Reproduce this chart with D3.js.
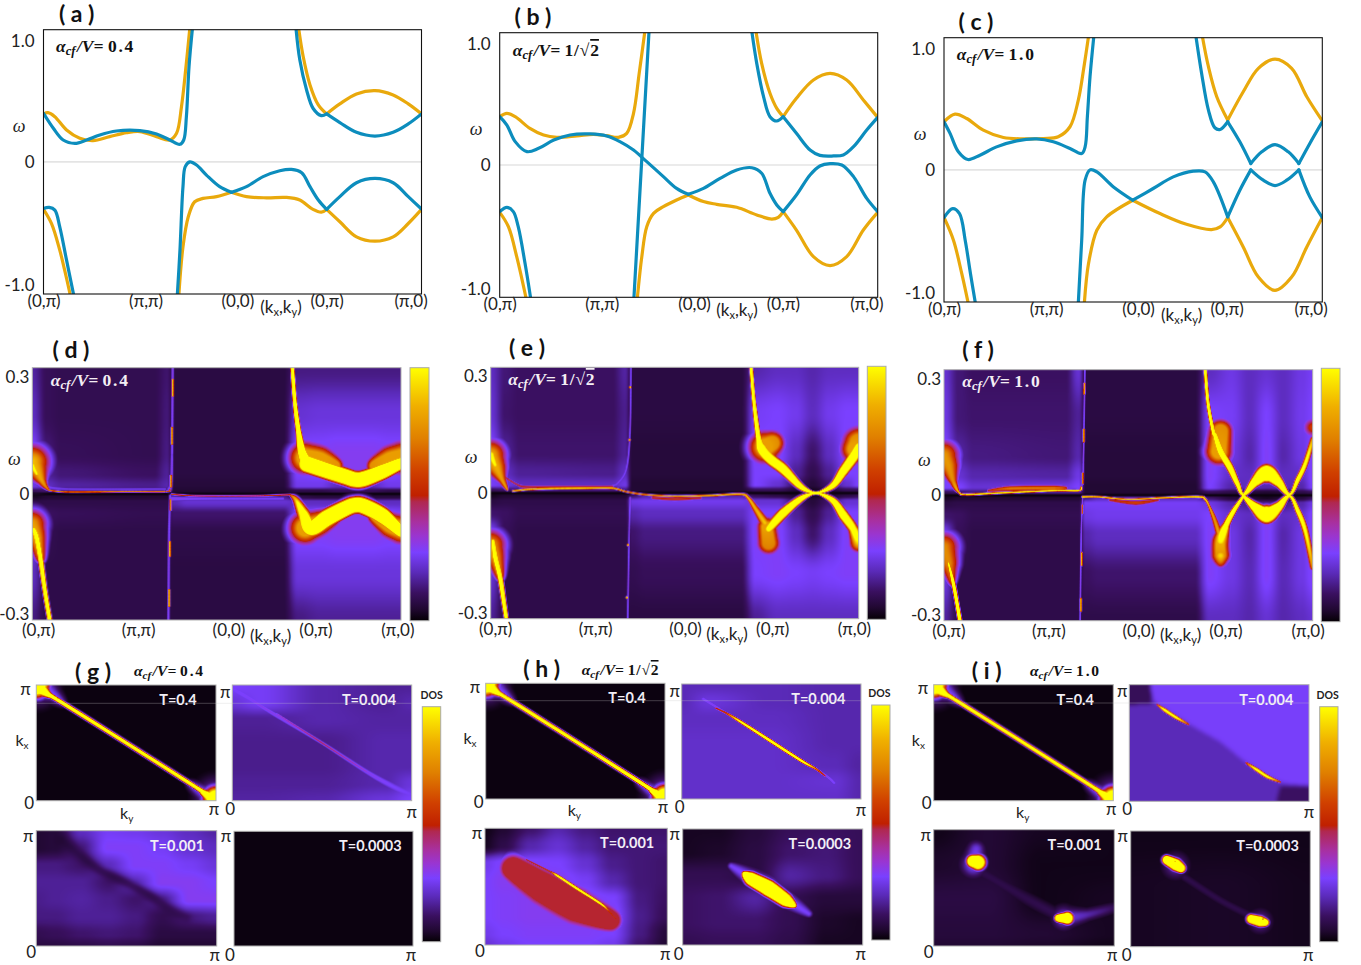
<!DOCTYPE html>
<html><head><meta charset="utf-8">
<script src="https://cdn.jsdelivr.net/npm/d3@7"></script>
<style>html,body{margin:0;padding:0;background:#fff}svg{display:block}text{font-family:Lato,"Open Sans",sans-serif}</style>
</head><body><svg id="c" width="1361" height="965"></svg>
<script>
// ---------- band dispersions, [k along path (0..1), omega] ----------
const aBlue=[
[[0,.393],[.026,.272],[.052,.177],[.083,.15],[.114,.177],[.149,.218],[.193,.25],[.255,.253],[.299,.226],[.334,.177],[.361,.142],[.371,.177],[.378,.366],[.385,.772],[.394,1.08]],
[[.668,1.08],[.678,.826],[.696,.582],[.713,.434],[.735,.374],[.749,.388],[.784,.318],[.828,.239],[.877,.209],[.925,.239],[.965,.307],[1,.388]],
[[0,-.377],[.015,-.369],[.03,-.391],[.043,-.526],[.061,-.796],[.08,-1.08]],
[[.354,-1.08],[.361,-.715],[.369,-.201],[.375,-.039],[.387,0],[.405,-.026],[.431,-.107],[.466,-.201],[.497,-.247],[.537,-.201],[.581,-.12],[.625,-.072],[.656,-.061],[.683,-.088],[.705,-.201],[.727,-.309],[.749,-.385],[.784,-.282],[.828,-.169],[.877,-.134],[.925,-.169],[.965,-.282],[1,-.382]]];
const aOrange=[
[[0,.388],[.012,.399],[.03,.366],[.061,.258],[.096,.191],[.131,.172],[.175,.204],[.22,.236],[.255,.245],[.299,.204],[.334,.177],[.352,.231],[.365,.447],[.377,.772],[.387,1.08]],
[[.675,1.08],[.687,.853],[.705,.623],[.727,.461],[.749,.388],[.784,.469],[.828,.55],[.877,.577],[.925,.542],[.965,.469],[1,.388]],
[[0,-.385],[.021,-.499],[.043,-.715],[.056,-.877],[.071,-1.08]],
[[.358,-1.08],[.369,-.688],[.383,-.445],[.4,-.323],[.422,-.296],[.458,-.282],[.497,-.247],[.537,-.282],[.59,-.291],[.643,-.288],[.678,-.309],[.713,-.385],[.735,-.407],[.749,-.385],[.784,-.485],[.828,-.607],[.877,-.642],[.925,-.607],[.965,-.499],[1,-.385]]];
const bBlue=[
[[0,.391],[.019,.323],[.041,.189],[.072,.108],[.103,.135],[.143,.202],[.186,.243],[.239,.251],[.283,.235],[.318,.189],[.354,.121],[.389,.027],[.433,-.094],[.468,-.189],[.499,-.237],[.539,-.189],[.583,-.108],[.627,-.04],[.667,-.022],[.693,-.067],[.715,-.229],[.733,-.323],[.75,-.377],[.785,-.243],[.821,-.081],[.847,-.008],[.874,.011],[.905,0],[.936,-.094],[.971,-.27],[1,-.377]],
[[.355,-1.08],[.395,1.08]],
[[.667,1.08],[.68,.822],[.698,.553],[.715,.391],[.733,.356],[.75,.391],[.785,.256],[.821,.121],[.847,.078],[.883,.073],[.909,.081],[.936,.148],[.971,.283],[1,.385]],
[[0,-.377],[.019,-.342],[.036,-.377],[.049,-.499],[.067,-.795],[.082,-1.08]]];
const bOrange=[
[[0,.391],[.019,.418],[.041,.391],[.08,.296],[.116,.243],[.151,.224],[.204,.235],[.248,.248],[.283,.237],[.314,.224],[.336,.256],[.354,.418],[.369,.741],[.384,1.08]],
[[.678,1.08],[.693,.822],[.715,.58],[.733,.458],[.75,.391],[.785,.539],[.83,.687],[.874,.741],[.918,.687],[.962,.526],[1,.385]],
[[0,-.383],[.023,-.499],[.045,-.741],[.07,-1.08]],
[[.364,-1.08],[.376,-.741],[.389,-.499],[.407,-.391],[.433,-.337],[.468,-.283],[.499,-.243],[.539,-.296],[.574,-.318],[.627,-.342],[.68,-.404],[.72,-.437],[.737,-.423],[.75,-.377],[.785,-.526],[.83,-.741],[.874,-.814],[.918,-.741],[.962,-.526],[1,-.383]]];
const cBlue=[
[[0,.389],[.016,.295],[.038,.146],[.063,.084],[.095,.119],[.139,.186],[.192,.235],[.245,.251],[.289,.227],[.333,.173],[.364,.132],[.373,.186],[.379,.43],[.386,.754],[.396,1.08]],
[[.666,1.08],[.681,.781],[.699,.484],[.716,.341],[.73,.327],[.75,.389],[.782,.227],[.811,.051],[.84,.146],[.875,.205],[.91,.146],[.938,.051],[.967,.214],[1,.389]],
[[0,-.386],[.023,-.314],[.041,-.354],[.056,-.57],[.07,-.841],[.083,-1.08]],
[[.355,-1.08],[.364,-.57],[.373,-.084],[.386,0],[.404,-.016],[.448,-.138],[.499,-.246],[.553,-.151],[.606,-.057],[.659,-.011],[.69,-.016],[.712,-.097],[.75,-.381],[.782,-.165],[.811,0],[.844,-.084],[.875,-.127],[.906,-.084],[.938,0],[.967,-.219],[1,-.386]]];
const cOrange=[
[[0,.389],[.029,.451],[.06,.416],[.104,.322],[.157,.262],[.21,.251],[.263,.254],[.302,.268],[.333,.349],[.355,.565],[.37,.835],[.382,1.08]],
[[.683,1.08],[.699,.835],[.721,.592],[.75,.403],[.791,.632],[.831,.822],[.875,.897],[.919,.822],[.959,.592],[1,.397]],
[[0,-.386],[.025,-.57],[.047,-.841],[.064,-1.08]],
[[.371,-1.08],[.382,-.759],[.404,-.489],[.43,-.381],[.499,-.246],[.571,-.354],[.641,-.441],[.707,-.484],[.73,-.462],[.75,-.386],[.791,-.624],[.831,-.868],[.875,-.976],[.919,-.868],[.959,-.624],[1,-.386]]];
// k values where a band has a sharp corner
const cornerK=[.497,.499,.747,.749,.75,.811,.938];

// ---------- text ----------
const pathLabels=["(0,π)","(π,π)","(0,0)","(0,π)","(π,0)"];
const bandTickK=[[0,.27,.513,.749,.971],[0,.27,.514,.749,.97],[0,.27,.513,.747,.969]];
const heatTickK=[[.016,.287,.532,.768,.99],[.012,.284,.528,.765,.987],[.012,.283,.527,.763,.986]];
const bandOmegaTicks=[1,0,-1], heatOmegaTicks=[.3,0,-.3];
const ratios=["0.4","1/√2","1.0"];
const tempLabels=["T=0.4","T=0.004","T=0.001","T=0.0003"];

// ---------- colour scale of the spectral maps ----------
const cmapT=[0,.045,.11,.19,.27,.335,.39,.47,.495,.59,.72,.85,1];
const cmapC=["#050005","#200830","#3a1060","#5a2ab8","#7a40ff","#9a35d0","#a830a0","#b02850","#c02000","#d04000","#e08000","#f0b000","#ffff00"];

// ---------- spectral maps: background level on a grid ----------
const heatCols=[0,.04,.08,.33,.365,.385,.42,.68,.72,.78,.83,.875,.92,.97,1];
const heatRows=[.315,.2,.1,.05,.02,.007,0,-.007,-.02,-.05,-.1,-.2,-.315];
const gridD=[
[.17,.10,.09,.09,.12,.07,.07,.07,.14,.14,.14,.14,.14,.14,.14],
[.20,.10,.09,.09,.13,.07,.07,.07,.22,.23,.23,.23,.23,.23,.23],
[.28,.13,.10,.09,.14,.07,.07,.07,.28,.28,.29,.29,.29,.28,.28],
[.26,.16,.13,.11,.16,.07,.07,.07,.27,.28,.29,.29,.29,.28,.27],
[.24,.20,.17,.15,.18,.06,.06,.06,.25,.25,.20,.22,.20,.25,.25],
[.10,.12,.12,.12,.12,.05,.05,.05,.08,.08,.10,.10,.10,.08,.08],
[.01,.01,.01,.01,.01,.01,.01,.01,.01,.01,.01,.01,.01,.01,.01],
[.03,.05,.05,.05,.05,.11,.16,.16,.08,.06,.06,.06,.06,.06,.06],
[.07,.08,.08,.08,.08,.19,.22,.22,.20,.20,.20,.20,.20,.20,.20],
[.12,.11,.10,.09,.09,.12,.12,.12,.27,.28,.29,.29,.29,.28,.27],
[.27,.09,.08,.08,.08,.08,.08,.08,.28,.28,.29,.29,.29,.28,.28],
[.20,.08,.08,.08,.08,.07,.07,.07,.23,.23,.23,.23,.23,.23,.23],
[.14,.08,.08,.08,.08,.07,.07,.07,.14,.16,.16,.16,.16,.16,.16]];
const gridE=[
[.20,.13,.11,.11,.17,.07,.07,.07,.18,.20,.20,.18,.20,.20,.20],
[.22,.12,.11,.11,.15,.07,.07,.07,.26,.27,.25,.20,.25,.27,.27],
[.28,.16,.12,.12,.16,.06,.06,.06,.28,.28,.20,.12,.20,.28,.28],
[.27,.20,.16,.15,.20,.06,.06,.06,.27,.27,.16,.09,.16,.27,.27],
[.26,.24,.20,.20,.24,.05,.05,.05,.27,.22,.12,.06,.12,.22,.27],
[.10,.12,.14,.14,.14,.05,.05,.05,.10,.10,.06,.03,.06,.10,.10],
[.01,.01,.01,.01,.01,.01,.01,.01,.01,.01,.01,.01,.01,.01,.01],
[.03,.05,.05,.05,.05,.12,.18,.18,.10,.08,.05,.03,.05,.08,.10],
[.07,.08,.08,.08,.08,.24,.25,.25,.22,.22,.12,.06,.12,.22,.22],
[.12,.11,.09,.09,.09,.18,.20,.20,.27,.27,.16,.09,.16,.27,.27],
[.27,.10,.08,.08,.08,.12,.14,.14,.28,.28,.20,.12,.20,.28,.28],
[.22,.08,.08,.08,.08,.09,.10,.10,.27,.28,.27,.26,.27,.28,.28],
[.16,.08,.08,.08,.08,.07,.07,.07,.16,.20,.20,.20,.20,.20,.20]];
const gridF=[
[.22,.13,.11,.11,.22,.07,.07,.07,.20,.24,.20,.22,.20,.24,.26],
[.24,.13,.12,.12,.16,.07,.07,.07,.27,.26,.20,.27,.20,.25,.27],
[.28,.17,.14,.13,.18,.06,.06,.06,.28,.24,.18,.28,.18,.24,.28],
[.28,.22,.18,.17,.24,.06,.06,.06,.28,.21,.20,.28,.20,.21,.28],
[.27,.27,.22,.24,.27,.05,.05,.05,.27,.18,.20,.18,.20,.18,.27],
[.10,.12,.14,.16,.16,.05,.05,.05,.10,.08,.06,.05,.06,.08,.10],
[.01,.01,.01,.01,.01,.01,.01,.01,.01,.01,.01,.01,.01,.01,.01],
[.03,.05,.05,.05,.05,.15,.20,.20,.12,.06,.05,.03,.05,.06,.10],
[.07,.08,.08,.08,.08,.26,.26,.26,.24,.18,.15,.15,.15,.18,.24],
[.12,.11,.09,.09,.09,.24,.25,.25,.27,.22,.20,.28,.20,.22,.28],
[.27,.10,.08,.08,.08,.18,.20,.20,.28,.24,.18,.28,.18,.24,.28],
[.24,.08,.08,.08,.08,.11,.12,.12,.28,.24,.19,.28,.19,.24,.28],
[.17,.08,.08,.08,.08,.08,.08,.08,.20,.20,.18,.22,.18,.20,.22]];

// ---------- spectral ridges: [k, omega, width in omega, weight, optional ceiling] ----------
const ridgesD=[
[[.381,.32,.004,.3],[.379,.1,.004,.3],[.377,.03,.005,.3],[.372,.012,.008,.3]],
[[.374,-.005,.004,.3],[.371,-.1,.004,.3],[.369,-.32,.004,.3]],
[[.381,.285,.003,.95],[.381,.245,.003,.95]],[[.379,.165,.003,.9],[.379,.125,.003,.9]],[[.376,.045,.003,.9],[.376,.018,.003,.9]],
[[.375,-.015,.003,.8],[.375,-.04,.003,.8]],[[.373,-.12,.003,.95],[.373,-.155,.003,.95]],[[.371,-.24,.003,.95],[.371,-.28,.003,.95]],
[[.03,.02,.008,.28],[.1,.012,.006,.24],[.36,.012,.006,.24]],
[[.045,.009,.0025,.7],[.1,.005,.0025,.78],[.25,.006,.0025,.75],[.36,.006,.0025,.72],[.373,.01,.003,.7]],
[[.38,-.012,.008,.3],[.5,-.012,.006,.27],[.68,-.012,.006,.27]],
[[.378,-.001,.0025,.6],[.45,-.005,.0025,.52],[.6,-.005,.0025,.52],[.7,-.002,.003,.55]],
[[0,.08,.045,.88],[.012,.06,.03,.85],[.025,.035,.014,.82],[.035,.02,.008,.75],[.045,.01,.003,.7]],
[[0,.07,.012,1.1],[.012,.05,.008,1]],
[[0,-.075,.038,.8],[.012,-.11,.026,.85],[.022,-.16,.014,.75]],
[[.004,-.09,.008,1.3],[.012,-.11,.007,1.6],[.022,-.16,.006,1.8],[.034,-.24,.005,2],[.048,-.32,.005,2]],
[[.705,.32,.0042,2],[.712,.23,.0045,2],[.722,.156,.006,2],[.731,.106,.01,2.2],[.745,.075,.014,2.6]],
[[.74,.09,.04,1,.8],[.78,.085,.035,1,.8],[.82,.07,.022,1,.76]],[[.93,.07,.022,1,.76],[.97,.085,.035,1,.8],[1,.09,.04,1,.8]],
[[.745,.075,.017,3],[.80,.058,.0165,3],[.85,.043,.016,3],[.875,.036,.016,3],[.90,.038,.016,3],[.95,.056,.015,3],[1,.077,.013,2.2]],
[[.74,-.085,.04,1,.8],[.78,-.072,.032,1,.78],[.82,-.055,.02,1,.74]],[[.93,-.055,.02,1,.74],[.97,-.078,.032,1,.78],[1,-.088,.036,1,.8]],
[[.70,-.003,.003,.6],[.715,-.015,.009,.9],[.735,-.05,.015,1.4],[.755,-.085,.018,2.2],[.80,-.06,.017,3],[.85,-.036,.016,3],[.875,-.028,.016,3],[.90,-.031,.016,3],[.95,-.055,.016,3],[1,-.095,.014,1.8]]];
const ridgesE=[
[[.381,.32,.003,.3],[.378,.15,.003,.3],[.368,.06,.004,.28],[.345,.025,.004,.27],[.33,.018,.005,.27]],
[[.372,-.32,.003,.3],[.376,-.1,.003,.3],[.379,-.012,.004,.3]],
[[.379,.265,.003,1.2]],[[.377,.133,.003,1.2]],[[.373,-.13,.003,1.2]],[[.37,-.262,.003,1.2]],
[[.03,.045,.003,.52],[.07,.022,.003,.52],[.1,.015,.005,.52],[.2,.015,.005,.5],[.33,.015,.005,.54]],
[[.44,-.012,.005,.5],[.5,-.015,.006,.56],[.57,-.012,.005,.5]],
[[0,.095,.04,.85],[.015,.065,.028,.85],[.03,.035,.012,.8],[.045,.008,.003,.8]],
[[0,.095,.016,1.1],[.012,.07,.01,1.0]],
[[.06,.005,.0025,.95],[.12,.01,.0027,1.05],[.25,.012,.0027,1.1],[.33,.012,.0027,1],[.37,.003,.0025,.8],[.42,-.004,.0025,.85],[.5,-.008,.0025,.95],[.6,-.006,.0025,1],[.68,-.003,.003,.95],[.70,-.013,.005,.9],[.72,-.04,.009,.85],[.745,-.075,.014,.9]],
[[0,-.13,.04,.8],[.012,-.16,.028,.8],[.025,-.21,.012,.75]],
[[.006,-.12,.007,1.1],[.012,-.16,.007,1.6],[.025,-.21,.006,1.8],[.035,-.27,.005,2],[.043,-.32,.0045,2]],
[[.707,.32,.0038,2],[.715,.23,.0042,2],[.727,.14,.006,2],[.736,.11,.012,2],[.76,.085,.012,2],[.795,.06,.0115,2],[.84,.018,.007,2.2],[.872,.002,.003,2],[.895,.002,.003,2],[.931,.02,.007,2.2],[.958,.055,.0105,2],[.985,.09,.012,2],[1,.115,.012,1.6]],
[[.745,.115,.04,1,.8],[.765,.125,.03,1,.75]],[[.99,.11,.035,1,.8],[1,.125,.04,1,.75]],
[[.75,-.085,.024,1,.8],[.755,-.125,.028,.95,.72]],
[[.755,-.09,.012,1.2],[.795,-.05,.0105,2],[.84,-.016,.007,2.2],[.872,-.002,.003,2],[.895,-.002,.003,2],[.931,-.02,.007,2.2],[.958,-.055,.0105,2],[.985,-.09,.012,1.3],[1,-.125,.024,.9]]];
const ridgesF=[
[[.382,.32,.003,.3],[.378,.1,.003,.3],[.375,.03,.004,.3],[.36,.015,.008,.28]],
[[.376,-.005,.003,.3],[.372,-.1,.003,.3],[.369,-.32,.003,.3]],
[[.381,.28,.003,.85],[.38,.255,.003,.85]],[[.379,.165,.003,.85],[.379,.135,.003,.85]],[[.376,.055,.003,.75],[.376,.03,.003,.75]],
[[.375,-.025,.003,.65],[.375,-.045,.003,.65]],[[.373,-.145,.003,.9],[.373,-.175,.003,.9]],[[.371,-.26,.003,.9],[.371,-.29,.003,.9]],
[[.12,.012,.004,.52],[.18,.017,.008,.72],[.3,.018,.008,.72],[.33,.018,.006,.58]],
[[.45,-.012,.005,.5],[.52,-.019,.008,.6],[.58,-.012,.005,.5]],
[[0,.1,.04,.78],[.012,.075,.03,.78],[.025,.035,.012,.75],[.04,.008,.003,.9],[.06,.002,.0027,1.1],[.15,.006,.0027,1.1],[.3,.012,.0028,1.1],[.365,.012,.0027,1.1],[.372,.02,.003,.95]],
[[0,-.13,.04,.75],[.012,-.17,.028,.75],[.022,-.22,.01,.6]],
[[.012,-.17,.004,1.0],[.025,-.22,.005,1.5],[.035,-.27,.0045,1.8],[.044,-.32,.0045,2]],
[[.376,-.004,.0027,1.1],[.42,-.004,.0025,1],[.5,-.01,.0025,.95],[.6,-.006,.0025,1],[.69,-.004,.003,1.1],[.708,-.01,.0035,1],[.72,-.03,.004,.85],[.735,-.065,.008,.78],[.75,-.11,.011,.85]],
[[.708,.32,.0038,1.8],[.716,.23,.004,1.8],[.73,.16,.0045,1.8],[.735,.15,.006,1.6],[.75,.11,.009,1.6],[.775,.07,.008,1.8],[.795,.03,.006,1.8],[.812,.002,.003,1.8],[.844,.034,.01,2.4],[.875,.055,.017,3],[.906,.034,.01,2.4],[.937,.002,.003,1.8],[.96,.04,.006,1.6],[.98,.08,.007,1.2],[1,.14,.008,.8]],
[[.75,.16,.03,1,.75],[.745,.11,.034,1,.8]],[[1,.17,.026,.58]],
[[.812,-.002,.003,1.8],[.844,-.03,.01,2.4],[.875,-.048,.017,3],[.906,-.03,.01,2.4],[.937,-.002,.003,1.8],[.96,-.04,.006,1.6],[.98,-.09,.008,1.1],[1,-.18,.009,.75]],
[[.812,-.002,.003,1.8],[.785,-.04,.006,1.7],[.765,-.075,.008,1.5],[.75,-.115,.022,1,.85],[.75,-.15,.024,.95,.75],[.75,-.17,.014,.6]]];

// ---------- constant-energy maps: (ky, kx) in units of π ----------
const fullCols=[0,1], fullRows=[1,0];
const blackGrid=[[.012,.012],[.012,.012]];
const diagRidge=[[0,1,.09,2],[.03,.96,.05,1.6],[.07,.915,.024,1.5],[.12,.87,.018,1.5],[.5,.5,.017,1.5],[.88,.125,.018,1.5],[.93,.07,.026,1.5],[.97,.03,.05,1.6],[1,.012,.09,2]];
const diagHalo=[[0,1,.14,.35],[.08,.93,.07,.28],[.15,.84,.03,.25]];
const diagHalo2=[[.85,.15,.03,.25],[.93,.07,.07,.28],[1,.02,.14,.35]];
const t04Ridges=[diagHalo,diagHalo2,diagRidge];

const c5=[0,.15,.5,.85,1], r7=[1,.85,.7,.5,.3,.15,0];
const gTRgrid=[[.27,.26,.18,.16,.16],[.23,.26,.18,.16,.18],[.16,.16,.18,.17,.17],[.15,.15,.15,.18,.18],[.15,.15,.15,.18,.18],[.16,.16,.16,.18,.23],[.17,.17,.18,.23,.27]];
const gTRridges=[[[0,.97,.08,.27],[.1,.88,.05,.28],[.2,.78,.03,.3],[.5,.5,.022,.3],[.75,.25,.03,.3],[.9,.12,.05,.27],[1,.05,.08,.26]],[[.25,.75,.01,.34],[.5,.5,.012,.47],[.75,.25,.01,.34]]];
const c8=[0,.1,.25,.4,.55,.7,.85,1], r8=[1,.85,.7,.55,.4,.25,.1,0];
const gBLgrid=[[.05,.06,.2,.26,.25,.23,.2,.17],[.05,.06,.14,.28,.28,.26,.22,.2],[.14,.14,.12,.2,.28,.28,.26,.23],[.16,.16,.16,.12,.2,.29,.29,.27],[.15,.16,.17,.15,.12,.16,.29,.29],[.14,.14,.16,.16,.14,.09,.14,.16],[.09,.1,.12,.13,.12,.07,.07,.07],[.07,.07,.08,.09,.08,.05,.05,.05]];
const gBLridges=[[[.15,.92,.06,-.35],[.25,.78,.05,-.4],[.353,.66,.045,-.45],[.5,.55,.045,-.45],[.63,.44,.045,-.45],[.72,.34,.05,-.35],[.83,.25,.05,-.25]]];

const hTRgrid=[[.19,.19,.19,.18,.18],[.19,.23,.19,.18,.18],[.2,.2,.2,.18,.18],[.21,.21,.21,.18,.18],[.21,.21,.21,.19,.17],[.21,.21,.21,.22,.18],[.21,.21,.21,.21,.18]];
const hTRridges=[[[.12,.87,.03,.28],[.25,.745,.02,.3],[.75,.26,.02,.3],[.85,.14,.03,.27]],[[.19,.79,.012,.5],[.25,.745,.013,.6],[.33,.67,.015,1.1],[.5,.5,.015,1.4],[.67,.33,.015,1.2],[.75,.26,.013,.7],[.8,.2,.012,.45]]];
const hBLgrid=[[.02,.05,.12,.18,.14,.12,.12,.12],[.03,.08,.18,.22,.17,.13,.13,.13],[.25,.28,.28,.27,.22,.15,.13,.12],[.27,.29,.29,.29,.26,.18,.13,.12],[.27,.28,.29,.29,.29,.27,.14,.11],[.27,.28,.29,.29,.29,.29,.15,.1],[.25,.27,.28,.28,.28,.27,.14,.06],[.22,.25,.27,.27,.27,.25,.12,.05]];
const hBLridges=[[[.155,.657,.11,.95,.48],[.32,.49,.15,.95,.48],[.5,.335,.155,.95,.48],[.686,.214,.095,.95,.48]],[[.229,.729,.01,.52],[.356,.629,.012,.58],[.4,.59,.013,1.2],[.494,.494,.013,1.35],[.631,.357,.013,1.2],[.68,.29,.012,.58],[.722,.214,.01,.52]]];
const c6=[0,.2,.4,.6,.8,1], r6=[1,.8,.6,.4,.2,0];
const hBRgrid=[[.03,.03,.06,.1,.11,.1],[.03,.04,.07,.12,.13,.1],[.09,.09,.07,.17,.14,.1],[.11,.12,.17,.09,.06,.06],[.11,.12,.12,.09,.04,.03],[.09,.1,.1,.08,.03,.03]];
const hBRridges=[[[.27,.68,.035,.26],[.476,.489,.115,.3],[.7,.27,.035,.26]],[[.34,.615,.02,1.3],[.38,.57,.045,3],[.476,.489,.05,4],[.57,.39,.045,3],[.62,.34,.02,1.3]]];

const iTRgrid=[[.19,.19],[.19,.19]];
const iTRbright=[[.115,1],[.134,.869],[.171,.811],[.356,.64],[.505,.511],[.653,.326],[.764,.211],[.857,.154],[1,.131],[1,1]];
const iTRcornerA=[[0,1],[.115,1],[.125,.84],[0,.83]];
const iTRcornerB=[[.82,0],[1,0],[1,.125],[.84,.13]];
const iTRridges=[[[.155,.83,.011,.55],[.2,.78,.016,1.3],[.26,.72,.016,1.2],[.33,.66,.012,.55]],[[.65,.33,.012,.55],[.71,.27,.016,1.3],[.77,.21,.016,1.2],[.84,.165,.012,.55]]];
const c4=[0,.3,.6,1], r5=[1,.7,.4,.1,0];
const iBLgrid=[[.02,.05,.03,.02],[.04,.05,.02,.02],[.07,.07,.02,.03],[.06,.06,.05,.03],[.05,.05,.04,.02]];
const iBLridges=[[[.235,.83,.07,.24],[.22,.7,.1,.28]],[[.72,.24,.09,.26],[.85,.27,.05,.18],[1,.33,.05,.09]],[[.28,.62,.06,.08],[.5,.42,.06,.08],[.68,.27,.06,.09]],[[.215,.73,.04,3],[.245,.72,.05,3]],[[.69,.24,.025,3],[.74,.24,.04,3]]];
const c3=[0,.5,1], r3=[1,.5,0];
const iBRgrid=[[.02,.02,.02],[.03,.035,.025],[.03,.035,.025]];
const iBRridges=[[[.25,.7,.1,.2]],[[.72,.22,.09,.2]],[[.3,.6,.04,.08],[.5,.4,.04,.08],[.65,.28,.04,.08]],[[.2,.75,.03,3],[.25,.71,.04,3],[.28,.68,.03,3]],[[.67,.24,.03,3],[.72,.22,.035,3],[.75,.21,.025,2.5]],[[.245,.735,.012,-.7]],[[.735,.235,.012,-.7]]];

// ---------- drawing ----------
const svg=d3.select("#c");
const defs=svg.append("defs");
const tColor=d3.scaleLinear().domain(cmapT).range(cmapC).clamp(true);
const lut=d3.range(1024).map(i=>d3.rgb(tColor(i/1023)));

const grad=defs.append("linearGradient").attr("id","cbar").attr("x1",0).attr("y1",1).attr("x2",0).attr("y2",0);
cmapT.forEach((t,i)=>grad.append("stop").attr("offset",t).attr("stop-color",cmapC[i]));

function densify(p,xs,ys,wpx){
  const P=p.map(q=>({x:xs(q[0]),y:ys(q[1]),h:q[2]*wpx,a:q[3],c:q[4]===undefined?99:q[4]}));
  if(P.length===1) return P;
  const out=[];
  for(let i=0;i<P.length-1;i++){
    const a=P[Math.max(i-1,0)],b=P[i],c=P[i+1],d=P[Math.min(i+2,P.length-1)];
    const n=Math.max(2,Math.ceil(Math.hypot(c.x-b.x,c.y-b.y)*2));
    for(let j=0;j<n;j++){
      const t=j/n,t2=t*t,t3=t2*t;
      const cr=(A,B,C,D)=>.5*(2*B+(C-A)*t+(2*A-5*B+4*C-D)*t2+(3*B-A-3*C+D)*t3);
      out.push({x:cr(a.x,b.x,c.x,d.x),y:cr(a.y,b.y,c.y,d.y),h:b.h+(c.h-b.h)*t,a:b.a+(c.a-b.a)*t,c:b.c+(c.c-b.c)*t});
    }
  }
  out.push(P[P.length-1]);
  return out;
}
const ease=t=>t*t*(3-2*t);
function softenField(v,w,h,R){
  const tmp=new Float32Array(w*h);
  for(let pass=0;pass<2;pass++){
    for(let j=0;j<h;j++)for(let i=0;i<w;i++){
      let s=0,n=0;for(let d=-R;d<=R;d++){const q=i+d;if(q>=0&&q<w){s+=v[j*w+q];n++;}}
      tmp[j*w+i]=s/n;
    }
    for(let j=0;j<h;j++)for(let i=0;i<w;i++){
      let s=0,n=0;for(let d=-R;d<=R;d++){const q=j+d;if(q>=0&&q<h){s+=tmp[q*w+i];n++;}}
      v[j*w+i]=s/n;
    }
  }
}

function fieldImage(box,xd,yd,cols,rows,grid,ridges,regions){
  const w=Math.round(box.x1-box.x0),h=Math.round(box.y1-box.y0);
  const xs=d3.scaleLinear().domain(xd).range([0,w]);
  const ys=d3.scaleLinear().domain(yd).range([h,0]);
  const wpx=h/(yd[1]-yd[0]);
  const ci=d3.scaleLinear().domain(cols).range(d3.range(cols.length)).clamp(true);
  const ri=d3.scaleLinear().domain(rows).range(d3.range(rows.length)).clamp(true);
  const v=new Float32Array(w*h), m=new Float32Array(w*h).fill(1);
  const cx=d3.range(w).map(i=>ci(xs.invert(i+.5)));
  const ry=d3.range(h).map(j=>ri(ys.invert(j+.5)));
  for(let j=0;j<h;j++){
    const r=ry[j],r0=Math.min(Math.floor(r),rows.length-2),fr=ease(r-r0);
    for(let i=0;i<w;i++){
      const c=cx[i],c0=Math.min(Math.floor(c),cols.length-2),fc=ease(c-c0);
      v[j*w+i]=(grid[r0][c0]*(1-fc)+grid[r0][c0+1]*fc)*(1-fr)+(grid[r0+1][c0]*(1-fc)+grid[r0+1][c0+1]*fc)*fr;
    }
  }
  if(regions){
    regions.forEach(reg=>{
      const poly=reg.poly.map(q=>[xs(q[0]),ys(q[1])]);
      for(let j=0;j<h;j++)for(let i=0;i<w;i++) if(d3.polygonContains(poly,[i+.5,j+.5])) v[j*w+i]=reg.level;
    });
    softenField(v,w,h,2);
  }
  ridges.forEach(r=>{
    densify(r,xs,ys,wpx).forEach(s=>{
      const R=Math.max(1.5,s.h*(s.a>1.5?3.2:2.8));
      const x0=Math.max(0,Math.floor(s.x-R)),x1=Math.min(w-1,Math.ceil(s.x+R));
      const y0=Math.max(0,Math.floor(s.y-R)),y1=Math.min(h-1,Math.ceil(s.y+R));
      for(let j=y0;j<=y1;j++)for(let i=x0;i<=x1;i++){
        const dx=i+.5-s.x,dy=j+.5-s.y,g=Math.exp(-(dx*dx+dy*dy)/(s.h*s.h));
        const k=j*w+i;
        if(s.a<0){const f=1+s.a*g; if(f<m[k]) m[k]=f;}
        else{const t=Math.min(s.c,s.a*g); if(t>v[k]) v[k]=t;}
      }
    });
  });
  const cv=document.createElement("canvas");cv.width=w;cv.height=h;
  const ctx=cv.getContext("2d"),img=ctx.createImageData(w,h);
  for(let k=0;k<w*h;k++){
    const c=lut[Math.max(0,Math.min(1023,Math.round(v[k]*m[k]*1023)))];
    img.data[k*4]=c.r;img.data[k*4+1]=c.g;img.data[k*4+2]=c.b;img.data[k*4+3]=255;
  }
  ctx.putImageData(img,0,0);
  svg.append("image").attr("x",box.x0).attr("y",box.y0).attr("width",box.x1-box.x0).attr("height",box.y1-box.y0)
    .attr("preserveAspectRatio","none").attr("href",cv.toDataURL()).style("filter","blur(.5px)");
  svg.append("rect").attr("x",box.x0).attr("y",box.y0).attr("width",box.x1-box.x0).attr("height",box.y1-box.y0)
    .attr("fill","none").attr("stroke","#b0b0b0").attr("stroke-width",1);
}

function alphaLabel(x,y,val,fill,size){
  const t=svg.append("text").attr("x",x).attr("y",y).attr("fill",fill)
    .style("font-family","'Liberation Serif',serif").style("font-weight","700").style("font-size",size+"px");
  t.append("tspan").style("font-style","italic").text("α");
  t.append("tspan").style("font-style","italic").attr("dy",3).style("font-size",(size*.72)+"px").text("cf");
  t.append("tspan").style("font-style","italic").attr("dy",-3).attr("dx",1.5).text("/V= ");
  if(val.includes("√")){
    t.append("tspan").attr("letter-spacing",.8).text("1/√");
    t.append("tspan").style("text-decoration","overline").text("2");
  } else t.append("tspan").attr("letter-spacing",1.8).text(val);
}
function panelTitle(x,y,l){
  svg.append("text").attr("x",x).attr("y",y).attr("text-anchor","middle").style("font-weight","700").style("font-size","23px").attr("fill","#111").text("( "+l+" )");
}
function omega(x,y){
  svg.append("text").attr("x",x).attr("y",y).attr("text-anchor","middle").style("font-family","'Liberation Serif',serif").style("font-style","italic").style("font-size","18px").attr("fill","#222").text("ω");
}
function kLabel(x,y){
  const t=svg.append("text").attr("x",x).attr("y",y).attr("text-anchor","middle").style("font-size","17px").attr("fill","#222");
  t.append("tspan").text("(k");t.append("tspan").attr("dy",3).style("font-size","11px").text("x");
  t.append("tspan").attr("dy",-3).text(",k");t.append("tspan").attr("dy",3).style("font-size","11px").text("y");
  t.append("tspan").attr("dy",-3).text(")");
}
function axes(xs,ys,ticksK,omegaTicks,padX,padY,size){
  const b=ys.range()[0];
  const gx=svg.append("g").attr("transform",`translate(0,${b})`).call(d3.axisBottom(xs).tickValues(ticksK).tickSize(0).tickPadding(padX).tickFormat((d,i)=>pathLabels[i]));
  const l=xs.range()[0];
  const gy=svg.append("g").attr("transform",`translate(${l},0)`).call(d3.axisLeft(ys).tickValues(omegaTicks).tickSize(0).tickPadding(padY).tickFormat(d=>d===0?"0":(d<0?"-":"")+Math.abs(d).toFixed(1)));
  [gx,gy].forEach(g=>{g.select(".domain").remove();g.selectAll("text").style("font-family","Lato,sans-serif").style("font-size",size+"px").attr("fill","#222");});
  gy.selectAll("text").attr("dy",d=>d>0?".5em":".32em");
}
function splitAtCorners(band){
  const parts=[];let cur=[];
  band.forEach((p,i)=>{cur.push(p); if(cornerK.includes(p[0])&&i>0&&i<band.length-1){parts.push(cur);cur=[p];}});
  parts.push(cur);return parts;
}

// band panels
const bandBoxes=[{x0:43.5,x1:421.5,y0:29.7,y1:294},{x0:499.7,x1:877.7,y0:32.7,y1:297.3},{x0:944,x1:1322.3,y0:37.7,y1:302}];
const bandData=[[aBlue,aOrange],[bBlue,bOrange],[cBlue,cOrange]];
const bandTitle=[[76.7,22,"a"],[533,25,"b"],[976,30,"c"]];
const bandAlpha=[[56,52],[512.7,56],[956.7,60]];
const bandOmega=[[19,132],[476,135],[920,140]];
const bandK=[[281,313],[737,316],[1181.7,321]];
bandBoxes.forEach((B,i)=>{
  const xs=d3.scaleLinear().domain([0,1]).range([B.x0,B.x1]);
  const ys=d3.scaleLinear().domain([-1.07,1.07]).range([B.y1,B.y0]);
  const id="clip"+i;
  defs.append("clipPath").attr("id",id).append("rect").attr("x",B.x0).attr("y",B.y0).attr("width",B.x1-B.x0).attr("height",B.y1-B.y0);
  svg.append("line").attr("x1",B.x0).attr("x2",B.x1).attr("y1",ys(0)).attr("y2",ys(0)).attr("stroke","#e4e4e4").attr("stroke-width",1.6);
  const line=d3.line().x(d=>xs(d[0])).y(d=>ys(d[1])).curve(d3.curveCatmullRom.alpha(.5));
  const g=svg.append("g").attr("clip-path",`url(#${id})`).attr("fill","none").attr("stroke-width",3.2).attr("stroke-linejoin","round").attr("stroke-linecap","round");
  g.selectAll(".o").data(bandData[i][1].flatMap(splitAtCorners)).join("path").attr("class","o").attr("d",line).attr("stroke","#e9a90c");
  g.selectAll(".b").data(bandData[i][0].flatMap(splitAtCorners)).join("path").attr("class","b").attr("d",line).attr("stroke","#0c8dbd");
  svg.append("rect").attr("x",B.x0).attr("y",B.y0).attr("width",B.x1-B.x0).attr("height",B.y1-B.y0).attr("fill","none").attr("stroke","#111").attr("stroke-width",1.1);
  axes(xs,ys,bandTickK[i],bandOmegaTicks,1,9,17);
  panelTitle(...bandTitle[i]);
  alphaLabel(bandAlpha[i][0],bandAlpha[i][1],ratios[i],"#111",17.5);
  omega(...bandOmega[i]);
  kLabel(...bandK[i]);
});

// colour bars
function colorBar(x0,x1,y0,y1){
  svg.append("rect").attr("x",x0).attr("y",y0).attr("width",x1-x0).attr("height",y1-y0).attr("fill","url(#cbar)").attr("stroke","#aaa").attr("stroke-width",1);
}

// spectral maps
const heatBoxes=[{x0:32.3,x1:401,y0:367.7,y1:620},{x0:490.7,x1:858.7,y0:367.3,y1:618.7},{x0:944,x1:1312.7,y0:369.7,y1:620.7}];
const heatGrids=[gridD,gridE,gridF], heatRidges=[ridgesD,ridgesE,ridgesF];
const heatTitle=[[71,358,"d"],[527,356,"e"],[978,358,"f"]];
const heatAlpha=[[50.7,386],[508.3,385],[962.3,386.5]];
const heatOmega=[[14.3,465],[471,463],[924.3,466]];
const heatK=[[270.7,642],[727,640],[1180.7,641]];
const heatBars=[[410,429,367.7,620.7],[867.3,886,366.3,619.3],[1321.3,1340,368.3,621.7]];
heatBoxes.forEach((B,i)=>{
  fieldImage(B,[0,1],[-.315,.315],heatCols,heatRows,heatGrids[i],heatRidges[i]);
  const xs=d3.scaleLinear().domain([0,1]).range([B.x0,B.x1]);
  const ys=d3.scaleLinear().domain([-.315,.315]).range([B.y1,B.y0]);
  axes(xs,ys,heatTickK[i],heatOmegaTicks,4,3,17);
  panelTitle(...heatTitle[i]);
  alphaLabel(heatAlpha[i][0],heatAlpha[i][1],ratios[i],"#f4eef4",17.5);
  omega(...heatOmega[i]);
  kLabel(...heatK[i]);
  colorBar(...heatBars[i]);
});

// constant-energy maps
const smallBoxes=[
 [{x0:36.3,x1:216,y0:685,y1:800.7},{x0:232.3,x1:411.7,y0:685,y1:800.7},{x0:36.3,x1:216.7,y0:830.7,y1:946},{x0:234,x1:413,y0:831.3,y1:946}],
 [{x0:485.7,x1:665,y0:683.3,y1:799},{x0:681.7,x1:861,y0:684,y1:799},{x0:485,x1:667.3,y0:828.3,y1:945},{x0:682.7,x1:862.7,y0:829,y1:945}],
 [{x0:933.7,x1:1113.3,y0:684.7,y1:800.7},{x0:1129.3,x1:1309,y0:684.7,y1:801.3},{x0:933.7,x1:1114.3,y0:829.7,y1:946},{x0:1130.7,x1:1310.3,y0:831,y1:946.7}]];
const smallFields=[
 [[fullCols,fullRows,blackGrid,t04Ridges],[c5,r7,gTRgrid,gTRridges],[c8,r8,gBLgrid,gBLridges],[fullCols,fullRows,blackGrid,[]]],
 [[fullCols,fullRows,blackGrid,t04Ridges],[c5,r7,hTRgrid,hTRridges],[c8,r8,hBLgrid,hBLridges],[c6,r6,hBRgrid,hBRridges]],
 [[fullCols,fullRows,blackGrid,t04Ridges],[fullCols,fullRows,iTRgrid,iTRridges,[{poly:iTRbright,level:.265},{poly:iTRcornerA,level:.1},{poly:iTRcornerB,level:.11}]],[c4,r5,iBLgrid,iBLridges],[c3,r3,iBRgrid,iBRridges]]];
const tempX=[.788,.762,.78,.762];
const smallTitle=[[93,680,"g"],[541.7,677,"h"],[986.7,679,"i"]];
const smallAlpha=[[134,676],[581.7,675],[1030,676]];
const kxPos=[[22,746],[470,744],[918.3,746]], kyPos=[[126.7,819],[574.3,816],[1022.7,818]];
const dosPos=[[431.7,699],[879.3,697],[1327.7,699]];
const smallBars=[[422.3,440.7,706.7,941.7],[871.7,890,705,940],[1319.7,1338,706.7,941.7]];
const faintY=[703.3,700.7,703];
const piOff=[
 [[-10.7,9.5],[-7,8.5],[-2,14]],
 [[-7,12.5],[-2,14],[0,17]],
 [[-8,11],[-5,12],[-2,14.5]],
 [[-8,11],[-4,14.5],[-2,14.5]]];
function simple(x,y,s,size,bold,fill,anchor){
  return svg.append("text").attr("x",x).attr("y",y).attr("text-anchor",anchor||"middle").style("font-size",size+"px").style("font-weight",bold?700:400).attr("fill",fill||"#222").text(s);
}
smallBoxes.forEach((set,c)=>{
  set.forEach((B,p)=>{
    const F=smallFields[c][p];
    fieldImage(B,[0,1],[0,1],F[0],F[1],F[2],F[3],F[4]);
    const xs=d3.scaleLinear().domain([0,1]).range([B.x0,B.x1]);
    const ys=d3.scaleLinear().domain([0,1]).range([B.y1,B.y0]);
    simple(xs(tempX[p]),B.y0+20,tempLabels[p],14.5,true,"#f2eef6");
    const o=piOff[p];
    simple(xs(0)+o[0][0],ys(1)+o[0][1],"π",17);
    simple(xs(0)+o[1][0],ys(0)+o[1][1],"0",17);
    simple(xs(1)+o[2][0],ys(0)+o[2][1],"π",17);
  });
  panelTitle(...smallTitle[c]);
  alphaLabel(smallAlpha[c][0],smallAlpha[c][1],ratios[c],"#111",15.5);
  const kx=svg.append("text").attr("x",kxPos[c][0]).attr("y",kxPos[c][1]).attr("text-anchor","middle").style("font-size","16px").attr("fill","#222");
  kx.append("tspan").text("k");kx.append("tspan").attr("dy",3).style("font-size","10px").text("x");
  const ky=svg.append("text").attr("x",kyPos[c][0]).attr("y",kyPos[c][1]).attr("text-anchor","middle").style("font-size","16px").attr("fill","#222");
  ky.append("tspan").text("k");ky.append("tspan").attr("dy",3).style("font-size","10px").text("y");
  simple(dosPos[c][0],dosPos[c][1],"DOS",10.5,true,"#222");
  colorBar(...smallBars[c]);
  svg.append("line").attr("x1",set[0].x0).attr("x2",set[1].x1).attr("y1",faintY[c]).attr("y2",faintY[c]).attr("stroke","#c8c8c8").attr("stroke-opacity",.3).attr("stroke-width",1);
});
</script></body></html>
